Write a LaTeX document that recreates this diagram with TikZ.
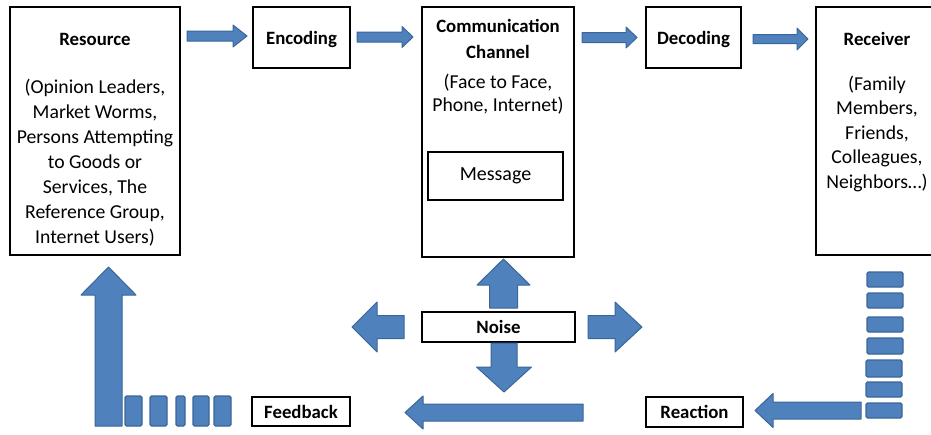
\documentclass[tikz,border=0pt]{standalone}
\usepackage{fontspec}
\setmainfont{Carlito}
\definecolor{ablue}{HTML}{4F81BD}
\definecolor{aedge}{HTML}{3A6699}
\tikzset{
  box/.style={draw=black, line width=1.6pt, inner sep=0pt, fill=white, align=center},
  thickbox/.style={box, line width=2.4pt},
  ttl/.style={font=\bfseries\fontsize{18.8}{26}\selectfont, inner sep=0pt, align=center},
  bod/.style={font=\fontsize{19.7}{25}\selectfont, inner sep=0pt, align=center},
  blk/.style={fill=ablue, draw=aedge, line width=1pt, line join=round},
  bar/.style={fill=ablue, draw=aedge, line width=1.2pt, rounded corners=1.5pt},
}
% horizontal block arrow: tail x, head-base x, tip x, centre y, shaft half, head half
\newcommand\hblk[6]{\draw[blk] (#1,#4-#5) -- (#2,#4-#5) -- (#2,#4-#6) -- (#3,#4) -- (#2,#4+#6) -- (#2,#4+#5) -- (#1,#4+#5) -- cycle;}
% vertical block arrow: centre x, tail y, head-base y, tip y, shaft half, head half
\newcommand\vblk[6]{\draw[blk] (#1-#5,#2) -- (#1-#5,#3) -- (#1-#6,#3) -- (#1,#4) -- (#1+#6,#3) -- (#1+#5,#3) -- (#1+#5,#2) -- cycle;}
\begin{document}
\begin{tikzpicture}[x=1pt, y=-1pt]
\useasboundingbox (0,0) rectangle (931,434);
\begin{scope}
\clip (0,0) rectangle (931,434);
% boxes
\node[box, minimum width=170pt, minimum height=248pt] (res) at (95,131) {};
\node[box, ttl, text height=14pt, text depth=0pt, minimum width=97pt, minimum height=61pt] (enc) at (301.5,37.5) {Encoding};
\node[box, minimum width=152pt, minimum height=250pt] (chan) at (498,132) {};
\node[thickbox, font=\fontsize{20}{24}\selectfont, minimum width=135pt, minimum height=48pt] (msg) at (495.5,176) {Message};
\node[box, ttl, text height=14pt, text depth=0pt, minimum width=95pt, minimum height=61pt] (dec) at (693.5,37.5) {Decoding};
\node[box, minimum width=122pt, minimum height=248pt] (rec) at (877,131) {};
\node[box, ttl, minimum width=153pt, minimum height=30pt] (noise) at (498.5,327) {Noise};
\node[thickbox, ttl, minimum width=98pt, minimum height=29pt] (fb) at (301,411.5) {Feedback};
\node[box, ttl, minimum width=97pt, minimum height=30pt] (react) at (694.5,412) {Reaction};
% texts in the big boxes (anchor base = baseline of the last line)
\node[ttl, anchor=base] (restitle) at (95,45) {Resource};
\node[bod, anchor=base] (resbody) at (95,243) {(Opinion Leaders,\\Market Worms,\\Persons Attempting\\to Goods or\\Services, The\\Reference Group,\\Internet Users)};
\node[ttl, anchor=base] (chantitle) at (498,58) {Communication\\Channel};
\node[bod, font=\fontsize{19.7}{23.5}\selectfont, anchor=base] (chanbody) at (498,111.5) {(Face to Face,\\Phone, Internet)};
\node[ttl, anchor=base] (rectitle) at (877,45) {Receiver};
\node[bod, font=\fontsize{19.7}{24.5}\selectfont, anchor=base] (recbody) at (877,188) {(Family\\Members,\\Friends,\\Colleagues,\\Neighbors…)};
% top flow arrows
\hblk{187}{233}{247}{36}{5}{11}
\hblk{357}{402}{413}{37}{5}{10.5}
\hblk{582}{626}{637}{37.5}{5}{10.5}
\hblk{753}{797}{808}{39}{4.5}{11}
% noise arrows
\vblk{503.5}{308}{285}{259}{14}{26.5}
\hblk{404}{377}{352}{327}{11.5}{25}
\hblk{588}{615}{642}{327}{11.5}{25}
\vblk{504}{343}{367}{392}{13}{27.5}
% bottom arrows
\hblk{583}{423}{405}{412.5}{8.5}{16.5}
\hblk{861}{773}{755}{410.5}{8.5}{17}
\vblk{108.5}{426}{295}{267}{13.5}{27.5}
% feedback bars
\draw[bar] (125,396) rectangle (142,426);
\draw[bar] (150,396) rectangle (167,426);
\draw[bar] (176,396) rectangle (185,426);
\draw[bar] (193,396) rectangle (209,426);
\draw[bar] (214,396) rectangle (231,426);
% reaction bars
\draw[bar] (867,272) rectangle (903,287);
\draw[bar] (867,293) rectangle (903,308);
\draw[bar] (867,317) rectangle (903,332);
\draw[bar] (867,338) rectangle (903,354);
\draw[bar] (866,360) rectangle (902,377);
\draw[bar] (866,382) rectangle (902,397);
\draw[bar] (866,403) rectangle (902,418);
\end{scope}
\end{tikzpicture}
\end{document}
